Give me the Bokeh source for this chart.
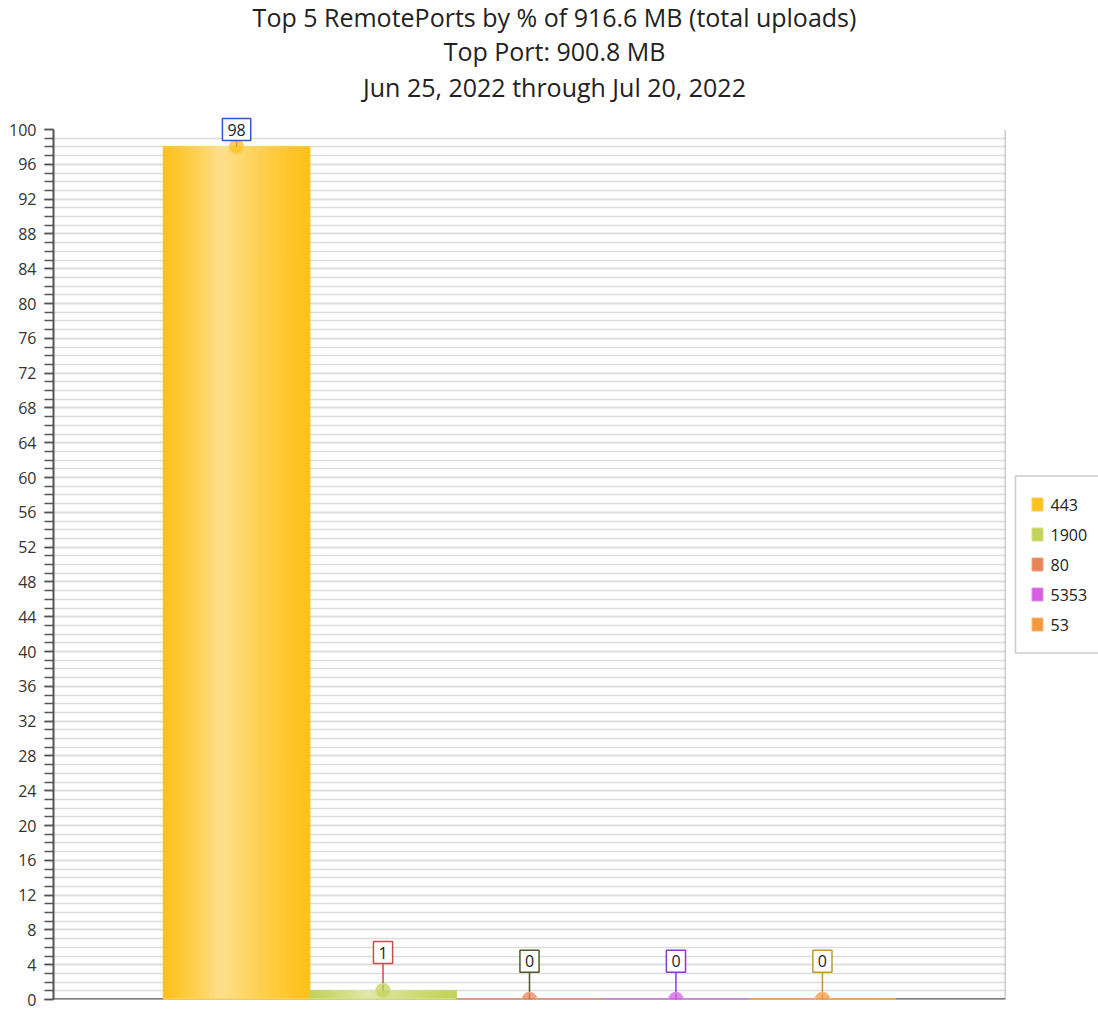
from bokeh.plotting import figure
from bokeh.models import ColumnDataSource, SingleIntervalTicker, Span, Range1d
from bokeh.core.properties import value
from bokeh.embed import file_html
from bokeh.resources import INLINE

# ---- data ----
ports = ["443", "1900", "80", "5353", "53"]
pct = [98, 1, 0, 0, 0]
bar_colors = ["#FEC21C", "#C3D35A", "#E8835A", "#D65EE3", "#F5993F"]
edge_colors = ["#F7CF5A", "#D2DF80", "#F0A585", "#DD8CEB", "#F7B57A"]
label_colors = ["#3355CC", "#CC4B4B", "#4A5A2A", "#8A3ACC", "#C09A3A"]
title_lines = ["Top 5 RemotePorts by % of 916.6 MB (total uploads)",
               "Top Port: 900.8 MB",
               "Jun 25, 2022 through Jul 20, 2022"]

FONT = "Open Sans"
FW, FH = 952, 870
X0, X1, Y0, Y1 = -0.25, 6.25, 0, 100


def mix(c1, c2, w):
    a = [int(c1[i:i + 2], 16) for i in (1, 3, 5)]
    b = [int(c2[i:i + 2], 16) for i in (1, 3, 5)]
    return "#%02x%02x%02x" % tuple(round(a[j] * (1 - w) + b[j] * w) for j in range(3))


def dx(px):  # pixels -> x data units
    return px * (X1 - X0) / FW


def dy(px):  # pixels -> y data units
    return px * (Y1 - Y0) / FH


xs = [i + 1 for i in range(len(ports))]

p = figure(frame_width=FW, frame_height=FH, output_backend="svg", toolbar_location=None,
           x_range=Range1d(X0, X1), y_range=Range1d(Y0, Y1),
           min_border_left=53, min_border_bottom=11, min_border_right=93, min_border_top=129)
p.outline_line_color = None
p.background_fill_color = "white"

# axes
p.xaxis.visible = False
ya = p.yaxis[0]
ya.ticker = SingleIntervalTicker(interval=4, num_minor_ticks=4)
ya.major_label_text_font = FONT
ya.major_label_text_font_size = "16px"
ya.major_label_text_color = "#333333"
ya.axis_line_color = "#555555"
ya.axis_line_width = 2
ya.major_tick_in = 0
ya.major_tick_out = 9
ya.minor_tick_in = 0
ya.minor_tick_out = 9
ya.major_tick_line_color = "#555555"
ya.minor_tick_line_color = "#555555"
ya.major_tick_line_width = 1.5
ya.minor_tick_line_width = 1.5
ya.major_label_standoff = 8

p.xgrid.grid_line_color = None
p.ygrid.grid_line_color = "#DCDCDC"
p.ygrid.minor_grid_line_color = "#DCDCDC"
p.ygrid.grid_line_width = 1.5
p.ygrid.minor_grid_line_width = 1.5

# right frame line and bottom axis line (under the glyphs)
p.add_layout(Span(location=X1, dimension="height", line_color="#9A9A9A", line_width=1.5,
                  level="underlay"))
p.add_layout(Span(location=0, dimension="width", line_color="#555555", line_width=2.5,
                  level="underlay"))

# title lines (overlay level so they are drawn above the frame)
xc = (X0 + X1) / 2
p.text(x=[xc] * 3, y=[Y1] * 3, text=title_lines, x_offset=25, y_offset=[-113, -79, -43],
       text_align="center", text_baseline="middle", text_font=value(FONT),
       text_font_size="25px", text_color="#222222", level="overlay")

# gradient bars from strips
n = 40
for i, (x, v) in enumerate(zip(xs, pct)):
    sx, sw, st, sc = [], [], [], []
    for k in range(n):
        t = (k + 0.5) / n
        w = max(0.0, 1 - abs(t - 0.4) / (0.4 if t < 0.4 else 0.6))
        sx.append(x - 0.5 + t)
        sw.append(1.0 / n)
        st.append(v)
        sc.append(mix(bar_colors[i], "#FFFFFF", 0.5 * w ** 1.3))
    if v > 0:
        p.vbar(x=sx, width=sw, top=st, bottom=0, fill_color=sc, line_color=sc,
               line_width=1.2)
    p.segment(x0=[x - 0.5], y0=[0], x1=[x + 0.5], y1=[0], line_color=edge_colors[i],
              line_width=2.5)

# label positions (clamped to top of axis)
label_y = [min(v + 4.4, Y1) for v in pct]
src = ColumnDataSource(dict(x=xs, v=pct, ly=label_y, txt=[str(round(v)) for v in pct],
                            lc=label_colors, bc=bar_colors, ec=edge_colors))
p.segment(x0="x", y0="v", x1="x", y1="ly", line_color="lc", line_width=1.5, source=src)
p.scatter(x="x", y="v", size=14, fill_color="bc", fill_alpha=0.75, line_color="ec",
          line_width=1.5, source=src)

p.text(x="x", y="ly", text="txt", source=src, text_align="center",
       text_baseline="middle", text_font=value(FONT), text_font_size="16px",
       text_color="#222222", background_fill_color="white",
       border_line_color="lc", border_line_width=1.5, padding=5, level="overlay")

# legend (drawn beside the frame)
ymid = (Y0 + Y1) / 2
p.rect(x=[X1 + dx(10 + 42)], y=[ymid], width=84, height=177, width_units="screen",
       height_units="screen", fill_color="white", line_color="#CCCCCC", line_width=1.5,
       level="overlay")
leg_y = [ymid + dy(30 * (2 - k)) for k in range(len(ports))]
p.rect(x=[X1 + dx(32)] * len(ports), y=leg_y, width=11, height=13, width_units="screen",
       height_units="screen", fill_color=bar_colors, line_color=edge_colors, line_width=1,
       level="overlay")
p.text(x=[X1 + dx(45)] * len(ports), y=leg_y, text=ports, text_align="left",
       text_baseline="middle", text_font=value(FONT), text_font_size="16px",
       text_color="#222222", level="overlay")

open("out.html", "w").write(file_html(p, INLINE))
